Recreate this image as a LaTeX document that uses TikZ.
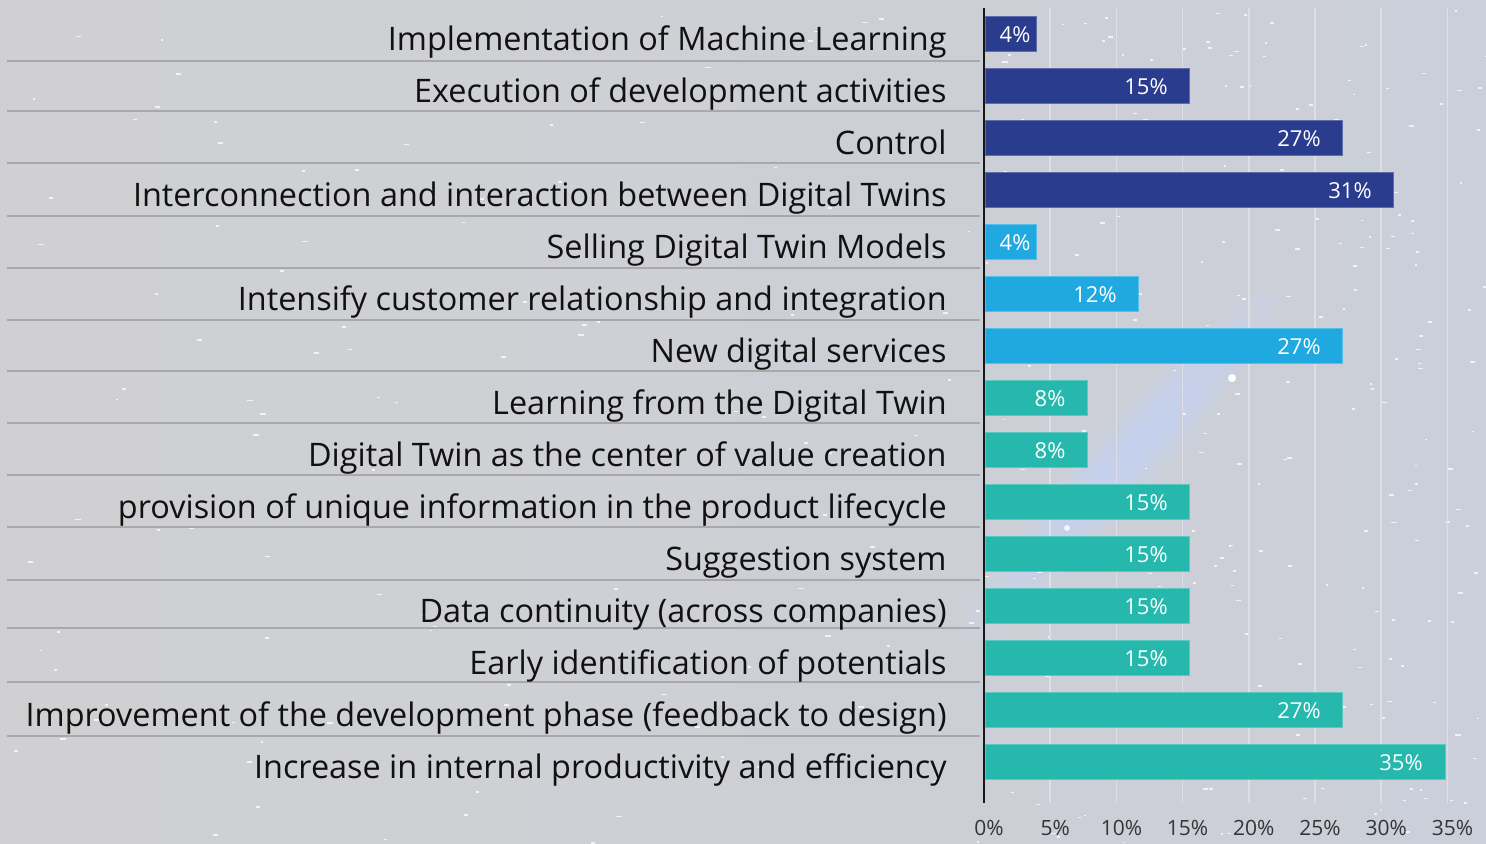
\documentclass[tikz,border=0pt]{standalone}
\usepackage{fontspec}
\setmainfont{Open Sans}
\definecolor{bgL}{HTML}{D0D0D2}
\definecolor{bgR}{HTML}{CBCFD9}
\definecolor{glow}{HTML}{C2D6FA}
\definecolor{dkb}{HTML}{2A3C8E}
\definecolor{ltb}{HTML}{1FA9E0}
\definecolor{teal}{HTML}{26B8AD}
\definecolor{sep}{HTML}{A9A9AB}
\definecolor{grid}{HTML}{DEDFE2}
\definecolor{txt}{HTML}{111111}
\tikzset{
  catlabel/.style={anchor=base east, font=\fontsize{16.2}{19}\selectfont, text=txt, inner sep=0pt},
  vallabel/.style={anchor=center, font=\fontsize{11}{13}\selectfont, text=white, inner sep=0pt},
  ticklabel/.style={anchor=center, font=\fontsize{10.5}{12}\selectfont, text=txt!85, inner sep=0pt},
  sepline/.style={draw=sep, line width=0.75pt},
  gridline/.style={draw=grid, line width=0.75pt},
  axisline/.style={draw=black!90, line width=1pt},
  star/.style={fill=white, opacity=0.75}
}
\begin{document}
\begin{tikzpicture}[x=0.5pt,y=-0.5pt]
\useasboundingbox (0,0) rectangle (1486,843);
% background
\shade[left color=bgL, right color=bgR] (0,0) rectangle (1486,843);
\begin{scope}
\clip (0,0) rectangle (1486,843);
\begin{scope}[shift={(1120,465)}, rotate=48]
\foreach \r in {1.0,0.85,0.7,0.55,0.42,0.3}{
  \fill[glow, opacity=0.16] (0,0) ellipse ({230*\r} and {34*\r});
}
\end{scope}
\fill[white] (1232,378) circle (4);
\fill[white, opacity=0.8] (1067,528) circle (3);
\pgfmathsetseed{17}
\foreach \s in {1,...,200}{
  \pgfmathsetmacro\sx{rnd*1486}
  \pgfmathsetmacro\sy{rnd*843}
  \pgfmathsetmacro\sw{2+rnd*4}
  \fill[star] (\sx,\sy) rectangle ++(\sw,1.6);
}
\pgfmathsetseed{29}
\foreach \s in {1,...,160}{
  \pgfmathsetmacro\sx{1000+rnd*486}
  \pgfmathsetmacro\sy{rnd*843}
  \pgfmathsetmacro\sw{2+rnd*3}
  \fill[star] (\sx,\sy) rectangle ++(\sw,1.6);
}
\end{scope}
% gridlines
\foreach \k in {1,...,7}{
  \draw[gridline] ({984+66.2*\k},8) -- ({984+66.2*\k},803);
}
% separators
\foreach \sy in {61,111,163,216,268,320,371,423,475,527,580,628,682,736}{
  \draw[sepline] (7,\sy) -- (980,\sy);
}
% bars and labels
\foreach \lab/\e/\c/\t/\lx [count=\i] in {
  Implementation of Machine Learning/1036/dkb/4\%/1015,
  Execution of development activities/1189/dkb/15\%/1146,
  Control/1342/dkb/27\%/1299,
  Interconnection and interaction between Digital Twins/1393/dkb/31\%/1350,
  Selling Digital Twin Models/1036/ltb/4\%/1015,
  Intensify customer relationship and integration/1138/ltb/12\%/1095,
  New digital services/1342/ltb/27\%/1299,
  Learning from the Digital Twin/1087/teal/8\%/1050,
  Digital Twin as the center of value creation/1087/teal/8\%/1050,
  provision of unique information in the product lifecycle/1189/teal/15\%/1146,
  Suggestion system/1189/teal/15\%/1146,
  Data continuity (across companies)/1189/teal/15\%/1146,
  Early identification of potentials/1189/teal/15\%/1146,
  Improvement of the development phase (feedback to design)/1342/teal/27\%/1299,
  Increase in internal productivity and efficiency/1445/teal/35\%/1401}{
  \pgfmathsetmacro\yc{34+52*(\i-1)}
  \filldraw[fill=\c, draw=\c!75!white, line width=0.4pt] (985,\yc-17.5) rectangle (\e,\yc+17.5);
  \node[vallabel] (val\i) at (\lx,\yc+1) {\t};
  \node[catlabel] (lab\i) at (947,\yc+16.5) {\lab};
}
% axis
\draw[axisline] (984,8) -- (984,803);
% tick labels
\foreach \k in {0,...,7}{
  \pgfmathtruncatemacro\pc{5*\k}
  \node[ticklabel] (tick\k) at ({989+66.2*\k},828) {\pc\%};
}
\end{tikzpicture}
\end{document}
